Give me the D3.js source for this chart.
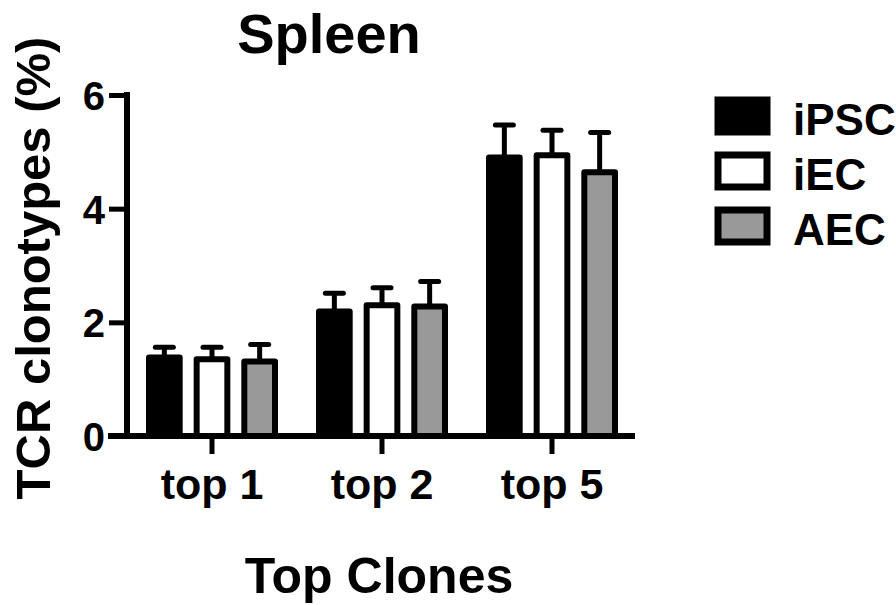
<!DOCTYPE html>
<html>
<head>
<meta charset="utf-8">
<script src="https://cdn.jsdelivr.net/npm/d3@7"></script>
<style>
  body { margin: 0; background: #fff; }
  text { font-family: "Liberation Sans", Arial, sans-serif; font-weight: bold; fill: #000; }
</style>
</head>
<body>
<div id="chart-area"></div>
<script>
// values
var groups = ["top 1", "top 2", "top 5"];
var seriesNames = ["iPSC", "iEC", "AEC"];
var seriesColors = ["#000000", "#ffffff", "#999999"];
var iPSC = [1.38, 2.19, 4.90];
var iEC = [1.35, 2.30, 4.94];
var AEC = [1.31, 2.28, 4.64];
var iPSCErr = [0.18, 0.32, 0.57];
var iECErr = [0.21, 0.31, 0.44];
var AECErr = [0.30, 0.44, 0.70];
var yTicks = [0, 2, 4, 6];

var means = [iPSC, iEC, AEC];
var errs = [iPSCErr, iECErr, AECErr];

var rows = [];
seriesNames.forEach(function(s, si){
    groups.forEach(function(g, gi){
        rows.push({ series: s, si: si, group: g, value: means[si][gi], err: errs[si][gi] });
    });
});

var svg = d3.select("#chart-area").append("svg")
    .attr("width", 896)
    .attr("height", 605);

var x0 = d3.scaleBand().domain(groups).range([127, 637]).paddingInner(0).paddingOuter(0);
var x1 = d3.scaleBand().domain(seriesNames).range([19, 151]).paddingInner(0.23);
var y = d3.scaleLinear().domain([0, 6]).range([436, 95]);

// bars
svg.selectAll("rect.bar")
    .data(rows)
    .enter()
    .append("rect")
        .attr("class", "bar")
        .attr("x", function(d){ return x0(d.group) + x1(d.series) + 3; })
        .attr("y", function(d){ return y(d.value); })
        .attr("width", x1.bandwidth() - 6)
        .attr("height", function(d){ return y(0) - y(d.value); })
        .attr("fill", function(d){ return seriesColors[d.si]; })
        .attr("stroke", "#000")
        .attr("stroke-width", 6)
        .attr("stroke-linejoin", "round");

// error bars (upper only)
var eb = svg.selectAll("g.err")
    .data(rows)
    .enter()
    .append("g")
        .attr("class", "err");

eb.append("line")
    .attr("x1", function(d){ return x0(d.group) + x1(d.series) + x1.bandwidth() / 2; })
    .attr("x2", function(d){ return x0(d.group) + x1(d.series) + x1.bandwidth() / 2; })
    .attr("y1", function(d){ return y(d.value); })
    .attr("y2", function(d){ return y(d.value + d.err); })
    .attr("stroke", "#000")
    .attr("stroke-width", 5);

eb.append("line")
    .attr("x1", function(d){ return x0(d.group) + x1(d.series) + x1.bandwidth() / 2 - 9; })
    .attr("x2", function(d){ return x0(d.group) + x1(d.series) + x1.bandwidth() / 2 + 9; })
    .attr("y1", function(d){ return y(d.value + d.err); })
    .attr("y2", function(d){ return y(d.value + d.err); })
    .attr("stroke", "#000")
    .attr("stroke-width", 5)
    .attr("stroke-linecap", "round");

// y axis
var yAxis = svg.append("g")
    .attr("transform", "translate(127,0)")
    .call(d3.axisLeft(y).tickValues(yTicks).tickFormat(d3.format("d"))
        .tickSize(18).tickPadding(4).tickSizeOuter(0));
yAxis.select(".domain").attr("stroke-width", 6).attr("d", "M0," + (y(6) - 3) + "V" + y(0));
yAxis.selectAll(".tick line").attr("stroke-width", 5);
yAxis.selectAll(".tick text")
    .attr("font-size", 40)
    .attr("font-family", "Liberation Sans, Arial, sans-serif")
    .attr("font-weight", "bold")
    .attr("dy", "0.36em");

// x axis
var xAxis = svg.append("g")
    .attr("transform", "translate(0," + y(0) + ")")
    .call(d3.axisBottom(x0).tickSize(18).tickPadding(14).tickSizeOuter(0));
xAxis.select(".domain").attr("stroke-width", 6).attr("d", "M108,0H635");
xAxis.selectAll(".tick line").attr("stroke-width", 5).attr("y1", 3);
xAxis.selectAll(".tick text")
    .attr("font-size", 43)
    .attr("font-family", "Liberation Sans, Arial, sans-serif")
    .attr("font-weight", "bold");

// title and axis labels
svg.append("text")
    .attr("x", 329).attr("y", 53)
    .attr("text-anchor", "middle")
    .attr("font-size", 56)
    .text("Spleen");

svg.append("text")
    .attr("transform", "translate(50,268) rotate(-90)")
    .attr("text-anchor", "middle")
    .attr("font-size", 49)
    .text("TCR clonotypes (%)");

svg.append("text")
    .attr("x", 379).attr("y", 593)
    .attr("text-anchor", "middle")
    .attr("font-size", 50)
    .text("Top Clones");

// legend
var legend = svg.selectAll("g.legend")
    .data(seriesNames)
    .enter()
    .append("g")
        .attr("class", "legend")
        .attr("transform", function(d, i){ return "translate(718," + (100 + i * 55) + ")"; });

legend.append("rect")
    .attr("width", 49)
    .attr("height", 32)
    .attr("fill", function(d, i){ return seriesColors[i]; })
    .attr("stroke", "#000")
    .attr("stroke-width", 7);

legend.append("text")
    .attr("x", 75)
    .attr("y", 35)
    .attr("font-size", 44)
    .text(function(d){ return d; });
</script>
</body>
</html>
